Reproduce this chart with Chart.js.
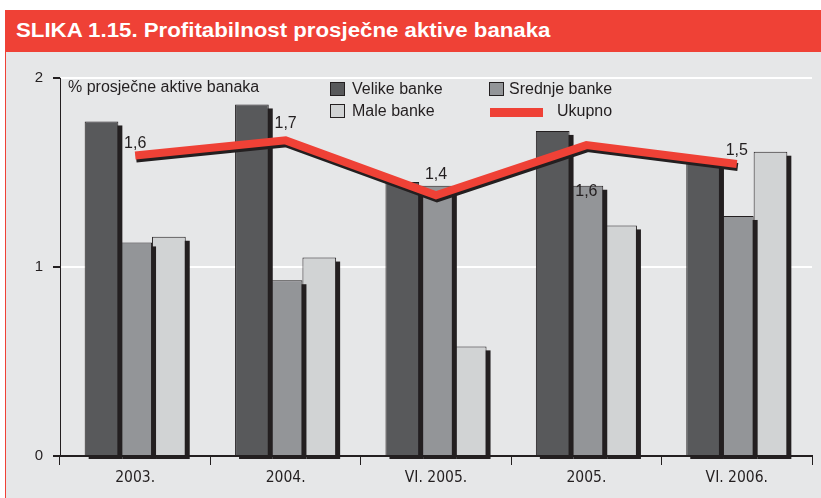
<!DOCTYPE html>
<html>
<head>
<meta charset="utf-8">
<script src="https://cdn.jsdelivr.net/npm/chart.js@4.4.0/dist/chart.umd.min.js"></script>
<style>
  body { margin: 0; width: 821px; height: 498px; background: #fff; overflow: hidden; position: relative; font-family: "Liberation Sans", Arial, sans-serif; }
  #bar { position: absolute; left: 5px; top: 10px; width: 816px; height: 42px; background: #ef4136; }
  #bar span { position: absolute; left: 11px; top: 10px; color: #fff; font: bold 20px/20px "Liberation Sans", Arial, sans-serif; transform-origin: 0 0; white-space: nowrap; }
  #panel { position: absolute; left: 5px; top: 52px; width: 816px; height: 446px; background: #e6e7e8; border-left: 1px solid #ef4136; box-sizing: border-box; }
  canvas { position: absolute; left: 0; top: 0; }
  .lg { position: absolute; font-size: 16px; color: #231f20; line-height: 16px; white-space: nowrap; }
  .sw { position: absolute; width: 13px; height: 12px; border: 1px solid #231f20; }
</style>
</head>
<body>
<div id="bar"><span id="title">SLIKA 1.15. Profitabilnost prosječne aktive banaka</span></div>
<div id="panel"></div>
<canvas id="myChart" width="821" height="498"></canvas>
<div class="lg" style="left:68px;top:79px;">% prosječne aktive banaka</div>
<div class="sw" style="left:330px;top:82px;background:#58595b"></div>
<div class="lg" style="left:352px;top:81px;">Velike banke</div>
<div class="sw" style="left:489px;top:82px;background:#939598"></div>
<div class="lg" style="left:509px;top:81px;">Srednje banke</div>
<div class="sw" style="left:330px;top:104px;background:#d1d3d4"></div>
<div class="lg" style="left:352px;top:103px;">Male banke</div>
<div style="position:absolute;left:490px;top:108px;width:53px;height:9px;background:#ef4136"></div>
<div class="lg" style="left:557px;top:103px;">Ukupno</div>
<script>
const labels = ['2003.', '2004.', 'VI. 2005.', '2005.', 'VI. 2006.'];
const velike = [1.77, 1.86, 1.45, 1.72, 1.55];
const srednje = [1.13, 0.93, 1.43, 1.43, 1.27];
const male = [1.16, 1.05, 0.58, 1.22, 1.61];
const ukupno = [1.59, 1.67, 1.38, 1.645, 1.545];
const ukupnoLabels = ['1,6', '1,7', '1,4', '1,6', '1,5'];

// condensed title: squeeze the bold face to the width of the original
const title = document.getElementById('title');
title.style.transform = 'scaleX(' + (535 / title.offsetWidth) + ')';

// vertical offset of each value label from its point
const labelOffsets = [-12, -17, -21, 46, -13];

const shadows = {
    id: 'shadows',
    beforeDatasetDraw(chart, args) {
        const ctx = chart.ctx;
        ctx.save();
        if (args.meta.type === 'bar') {
            ctx.fillStyle = '#231f20';
            args.meta.data.forEach(el => {
                const p = el.getProps(['x', 'y', 'base', 'width'], true);
                ctx.fillRect(p.x - p.width / 2 + 4, p.y + 4, p.width, p.base - p.y);
            });
        } else {
            ctx.shadowColor = '#231f20';
            ctx.shadowBlur = 0;
            ctx.shadowOffsetX = 1;
            ctx.shadowOffsetY = 3;
        }
    },
    afterDatasetDraw(chart) {
        chart.ctx.restore();
    }
};

const valueLabels = {
    id: 'valueLabels',
    afterDatasetsDraw(chart) {
        const ctx = chart.ctx;
        const meta = chart.getDatasetMeta(3);
        ctx.save();
        ctx.font = '16px "Liberation Sans", Arial, sans-serif';
        ctx.fillStyle = '#231f20';
        ctx.textAlign = 'center';
        ctx.textBaseline = 'middle';
        meta.data.forEach((pt, i) => {
            ctx.fillText(ukupnoLabels[i], pt.x, pt.y + labelOffsets[i]);
        });
        ctx.restore();
    }
};

const barStyle = {
    borderColor: '#231f20',
    borderWidth: 1,
    categoryPercentage: 0.672,
    barPercentage: 1,
    clip: false,
    order: 1
};

new Chart(document.getElementById('myChart'), {
    type: 'bar',
    data: {
        labels: labels,
        datasets: [
            Object.assign({ label: 'Velike banke', data: velike, backgroundColor: '#58595b' }, barStyle),
            Object.assign({ label: 'Srednje banke', data: srednje, backgroundColor: '#939598' }, barStyle),
            Object.assign({ label: 'Male banke', data: male, backgroundColor: '#d1d3d4' }, barStyle),
            {
                type: 'line',
                label: 'Ukupno',
                data: ukupno,
                borderColor: '#ef4136',
                borderWidth: 8,
                borderCapStyle: 'butt',
                borderJoinStyle: 'miter',
                pointRadius: 0,
                tension: 0,
                clip: false,
                order: 0
            }
        ]
    },
    options: {
        responsive: false,
        animation: false,
        devicePixelRatio: 1,
        layout: { padding: { top: 78, right: 9, left: 0, bottom: 0 } },
        plugins: {
            legend: { display: false },
            tooltip: { enabled: false }
        },
        scales: {
            x: {
                afterFit: s => { s.height = 42; },
                grid: {
                    offset: true,
                    drawOnChartArea: false,
                    drawTicks: true,
                    tickLength: 9,
                    tickColor: '#231f20'
                },
                border: { display: true, color: '#231f20', width: 2 },
                ticks: {
                    color: '#231f20',
                    padding: 4,
                    font: { family: '"Liberation Sans Narrow", "DejaVu Sans Condensed", sans-serif', size: 15.5 }
                }
            },
            y: {
                min: 0,
                max: 2,
                afterFit: s => { s.width = 60; },
                grid: {
                    color: '#ffffff',
                    lineWidth: 2,
                    tickColor: '#231f20',
                    tickLength: 7
                },
                border: { display: true, color: '#231f20', width: 1 },
                ticks: {
                    stepSize: 1,
                    color: '#231f20',
                    padding: 10,
                    font: { family: '"Liberation Sans", Arial, sans-serif', size: 15 }
                }
            }
        }
    },
    plugins: [shadows, valueLabels]
});
</script>
</body>
</html>
